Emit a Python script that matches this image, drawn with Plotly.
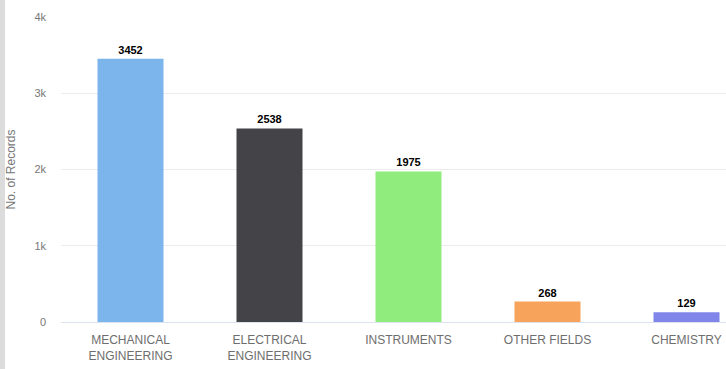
import plotly.graph_objects as go

categories = ["MECHANICAL<br>ENGINEERING", "ELECTRICAL<br>ENGINEERING", "INSTRUMENTS", "OTHER FIELDS", "CHEMISTRY"]
records = [3452, 2538, 1975, 268, 129]
bar_colors = ["#7cb5ec", "#434348", "#90ed7d", "#f7a35c", "#8085e9"]
y_ticks = [0, 1000, 2000, 3000, 4000]
y_tick_labels = ["0", "1k", "2k", "3k", "4k"]

W, H = 726, 369
ML, MR, MT, MB = 61, 0, 17, 47
plot_w = W - ML - MR

fig = go.Figure(
    go.Bar(
        x=list(range(len(categories))),
        y=records,
        marker=dict(color=bar_colors, line=dict(width=0)),
        width=0.475,
        text=[str(v) for v in records],
        textposition="outside",
        textfont=dict(family="Liberation Sans Narrow, Arial Narrow, sans-serif", size=11, color="#000000"),
        texttemplate="<b>%{text}</b>",
        cliponaxis=False,
    )
)

fig.update_layout(
    width=W,
    height=H,
    margin=dict(l=ML, r=MR, t=MT, b=MB),
    paper_bgcolor="#ffffff",
    plot_bgcolor="#ffffff",
    showlegend=False,
    font=dict(family="Liberation Sans Narrow, Arial Narrow, sans-serif", color="#777777"),
    xaxis=dict(
        range=[-0.5, -0.5 + plot_w / 139.0],
        tickmode="array",
        tickvals=list(range(len(categories))),
        ticktext=categories,
        tickfont=dict(size=12, color="#6e6e6e"),
        showgrid=False,
        zeroline=False,
        showline=False,
        ticks="",
        ticklabelstandoff=9,
    ),
    yaxis=dict(
        range=[0, 4000],
        tickmode="array",
        tickvals=y_ticks,
        ticktext=y_tick_labels,
        tickfont=dict(size=11, color="#777777"),
        showgrid=True,
        gridcolor="#ececec",
        gridwidth=1,
        zeroline=True,
        zerolinecolor="#dde3ee",
        zerolinewidth=1,
        ticks="",
        ticklabelstandoff=14,
        title=dict(text="No. of Records", font=dict(size=12, color="#777777"), standoff=16),
    ),
    shapes=[
        dict(
            type="rect",
            xref="paper",
            yref="paper",
            x0=-ML / plot_w,
            x1=-(ML - 5) / plot_w,
            y0=-MB / (H - MT - MB),
            y1=1 + MT / (H - MT - MB),
            fillcolor="#dcdcdc",
            line=dict(width=0),
            layer="above",
        )
    ],
)

fig.write_html("out.html")
